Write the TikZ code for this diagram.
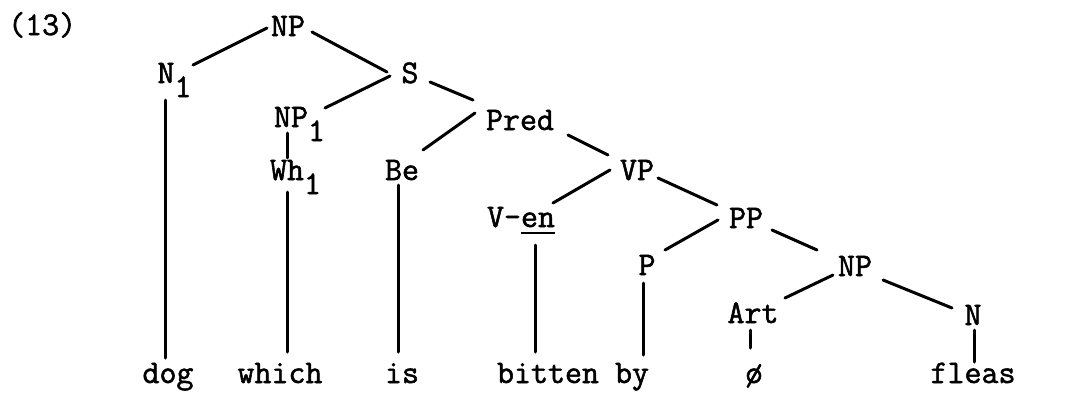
\documentclass[tikz,border=0pt]{standalone}
\usepackage{fontspec}
\newfontfamily\typewriter{Latin Modern Mono}[FakeBold=1.6]
\newcommand\lowone{\rlap{\raisebox{-14pt}{1}}}
\newcommand\ulword[1]{\setbox0\hbox{#1}\rlap{\rule[-7pt]{\wd0}{2pt}}\box0}
\begin{document}
\begin{tikzpicture}[x=1pt,y=-1pt,
  lbl/.style={inner sep=0pt, anchor=base, font=\typewriter\bfseries\fontsize{33}{34}\selectfont},
  edge/.style={line width=3pt, line cap=round}]
\useasboundingbox (0,0) rectangle (1065,394);

% example number
\node[lbl, anchor=base west] (num) at (8,35) {(13)};

% category labels
\node[lbl] (NPa)  at (288,36)  {NP};
\node[lbl] (N1)   at (166,83)  {N\lowone};
\node[lbl] (S)    at (410,83)  {S};
\node[lbl] (NP1)  at (291,127) {NP\lowone};
\node[lbl] (Pred) at (520,130) {Pred};
\node[lbl] (Wh1)  at (287,180) {Wh\lowone};
\node[lbl] (Be)   at (402,180) {Be};
\node[lbl] (VP)   at (637,180) {VP};
\node[lbl] (Ven)  at (521,227) {V-\ulword{en}};
\node[lbl] (PP)   at (746,228) {PP};
\node[lbl] (P)    at (647,275) {P};
\node[lbl] (NPb)  at (855,276) {NP};
\node[lbl] (Art)  at (753,323) {Art};
\node[lbl] (N)    at (973,325) {N};

% terminal words
\node[lbl] (dog)    at (168,383) {dog};
\node[lbl] (which)  at (280,383) {which};
\node[lbl] (is)     at (402,383) {is};
\node[lbl] (bitten) at (548,383) {bitten};
\node[lbl] (by)     at (632,383) {by};
\node[lbl] (null)   at (754,383) {ø};
\node[lbl] (fleas)  at (973,383) {fleas};

% branches
\draw[edge] ([shift={(-21,-8)}]NPa.base) -- ([shift={(27,-18)}]N1.base);
\draw[edge] ([shift={(24,-4)}]NPa.base) -- ([shift={(-23,-11)}]S.base);
\draw[edge] ([shift={(-20,-7)}]S.base) -- ([shift={(34,-19)}]NP1.base);
\draw[edge] ([shift={(20,-1)}]S.base) -- ([shift={(-47,-30)}]Pred.base);
\draw[edge] ([shift={(-45,-17)}]Pred.base) -- ([shift={(21,-30)}]Be.base);
\draw[edge] ([shift={(-4,6)}]NP1.base) -- ([shift={(0,-22)}]Wh1.base);
\draw[edge] ([shift={(48,5)}]Pred.base) -- ([shift={(-29,-25)}]VP.base);
\draw[edge] ([shift={(-27,-10)}]VP.base) -- ([shift={(32,-24)}]Ven.base);
\draw[edge] ([shift={(21,-2)}]VP.base) -- ([shift={(-29,-23)}]PP.base);
\draw[edge] ([shift={(-28,-8)}]PP.base) -- ([shift={(18,-25)}]P.base);
\draw[edge] ([shift={(26,2)}]PP.base) -- ([shift={(-38,-26)}]NPb.base);
\draw[edge] ([shift={(-22,-1)}]NPb.base) -- ([shift={(32,-25)}]Art.base);
\draw[edge] ([shift={(28,4)}]NPb.base) -- ([shift={(-21,-17)}]N.base);

% lexical attachments
\draw[edge] ([shift={(-1,17)}]N1.base) -- ([shift={(-3,-25)}]dog.base);
\draw[edge] ([shift={(0,12)}]Wh1.base) -- ([shift={(7,-31)}]which.base);
\draw[edge] ([shift={(-4,5)}]Be.base) -- ([shift={(-4,-31)}]is.base);
\draw[edge] ([shift={(14,18)}]Ven.base) -- ([shift={(-13,-31)}]bitten.base);
\draw[edge] ([shift={(-4,8)}]P.base) -- ([shift={(11,-28)}]by.base);
\draw[edge] ([shift={(-3,7)}]Art.base) -- ([shift={(-4,-35)}]null.base);
\draw[edge] ([shift={(1,5)}]N.base) -- ([shift={(1,-21)}]fleas.base);
\end{tikzpicture}
\end{document}
